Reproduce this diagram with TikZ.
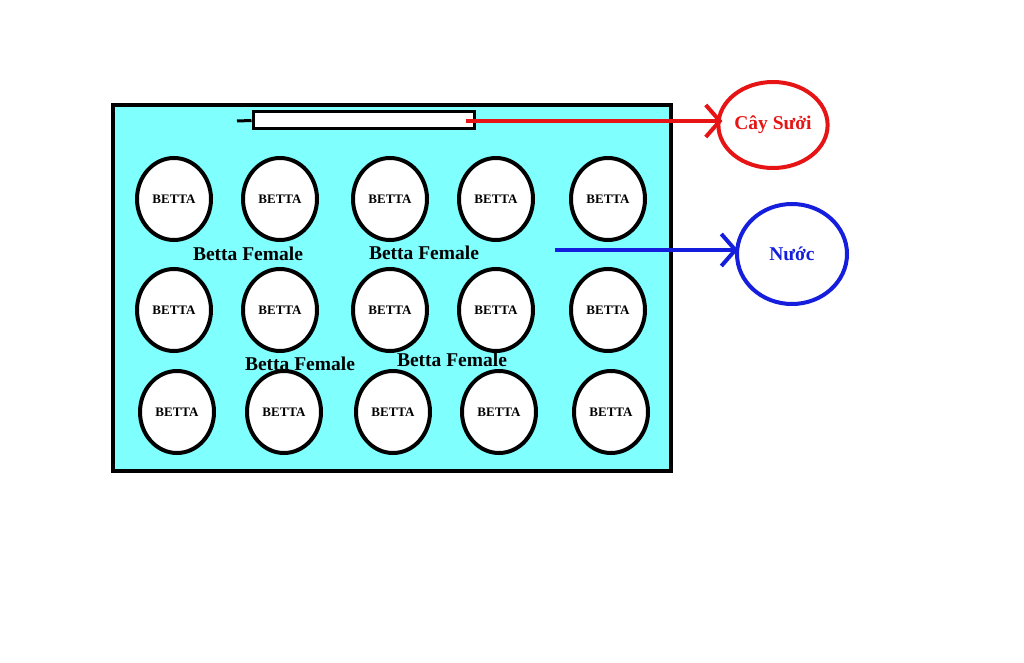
\documentclass[tikz,border=0pt]{standalone}
\usepackage{fontspec}
\setmainfont{Liberation Serif}
\usetikzlibrary{shapes.geometric,arrows.meta}
\definecolor{tankcyan}{RGB}{128,255,255}
\definecolor{heatred}{RGB}{230,20,20}
\definecolor{waterblue}{RGB}{20,30,220}
\tikzset{
  fish/.style={draw=black, line width=4pt, fill=white, ellipse, inner sep=0pt,
    minimum width=74pt, minimum height=82pt, font=\bfseries\fontsize{13}{13}\selectfont},
  femlabel/.style={font=\bfseries\fontsize{19.5}{19}\selectfont, inner sep=0pt},
  callout/.style={ellipse, line width=4pt, fill=white, inner sep=0pt, font=\bfseries\fontsize{19.5}{19}\selectfont},
  barb/.style={-{Straight Barb[length=14pt,width=32pt,line width=4pt]}, line width=4pt}
}
\begin{document}
\begin{tikzpicture}[x=1pt,y=-1pt]
\useasboundingbox (0,0) rectangle (1024,663);
\fill[white] (0,0) rectangle (1024,663);
% tank
\node[draw=black, line width=4pt, fill=tankcyan, minimum width=558pt, minimum height=366pt, inner sep=0pt, anchor=north west] (tank) at (111,103) {};
% heater
\coordinate (stub) at (237,121);
\node[draw=black, line width=3pt, fill=white, minimum width=221pt, minimum height=17pt, inner sep=0pt] (heater) at (363.5,120.5) {};
\draw[line width=3pt] (stub) -- (heater.west);
\coordinate (heatend) at (466,121);
\coordinate (waterstart) at (555,250);
% callouts
\node[callout, draw=heatred, text=heatred, minimum width=102pt, minimum height=86pt] (heat) at (773,125) {Cây Sưởi};
\node[callout, draw=waterblue, text=waterblue, minimum width=110pt, minimum height=100pt] (water) at (792,254) {Nước};
\draw[barb, heatred, shorten >=-6pt] (heatend) -- (heatend -| heat.west);
\draw[barb, waterblue, shorten >=-3pt] (waterstart) -- (waterstart -| water.west);
% fish cups
\foreach \x [count=\i] in {174,280,390,496,608} {
  \node[fish] (a\i) at (\x,199) {BETTA};
  \node[fish] (b\i) at (\x,310) {BETTA};
}
\foreach \x [count=\i] in {177,284,393,499,611} {
  \node[fish] (c\i) at (\x,412) {BETTA};
}
% labels
\node[femlabel] (f1) at (248,254) {Betta Female};
\node[femlabel] (f2) at (424,253) {Betta Female};
\node[femlabel] (f3) at (300,364) {Betta Female};
\node[femlabel] (f4) at (452,360) {Betta Female};
\end{tikzpicture}
\end{document}
